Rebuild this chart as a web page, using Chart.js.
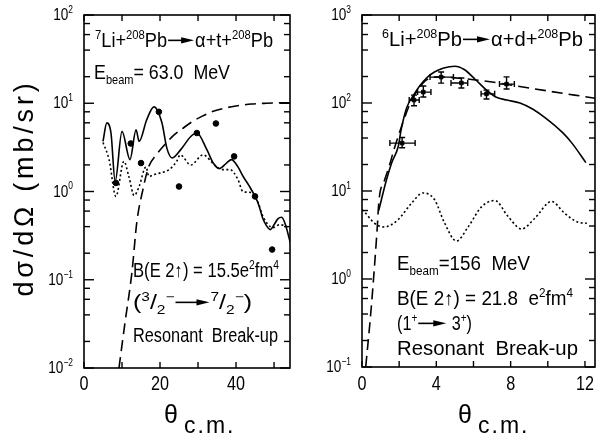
<!DOCTYPE html>
<html>
<head>
<meta charset="utf-8">
<script src="https://cdn.jsdelivr.net/npm/chart.js@4"></script>
<style>
  body { margin: 0; background: #fff; }
  canvas { position: absolute; top: 0; }
</style>
</head>
<body>
<canvas id="li7" width="300" height="437" style="left:0"></canvas>
<canvas id="li6" width="303" height="437" style="left:300px"></canvas>
<script>
// ---- 7Li + 208Pb (left panel) ----
const li7DataAngle = [8.4, 12.3, 15.0, 19.7, 25.0, 29.7, 34.7, 39.5, 45.0, 49.5];
const li7Data = [1.25, 3.5, 2.1, 8.0, 1.14, 4.6, 5.9, 2.5, 0.88, 0.22];

const li7FullAngle = [5.0, 6.0, 7.1, 8.2, 10.0, 12.1, 13.7, 14.5, 16.5, 18.4, 20.5, 21.8, 23.2, 25.5, 28.1, 29.7, 32.3, 34.0, 35.6, 37.5, 38.8, 40.5, 42.0, 43.5, 45.0, 46.0, 47.0, 48.0, 49.0, 50.0, 51.0, 52.0, 53.0, 54.3];
const li7Full = [3.7, 6.0, 4.6, 1.3, 4.8, 2.3, 5.0, 3.7, 6.5, 9.1, 6.0, 3.1, 2.4, 3.0, 4.2, 4.6, 3.0, 2.1, 1.82, 2.1, 2.3, 1.9, 1.45, 1.15, 0.88, 0.7, 0.5, 0.41, 0.37, 0.42, 0.49, 0.51, 0.42, 0.26];

const li7DotAngle = [5.0, 6.6, 8.4, 10.5, 11.8, 13.2, 14.5, 16.3, 17.1, 18.4, 20.2, 22.4, 24.4, 25.3, 28.1, 31.3, 34.5, 36.3, 38.4, 40.5, 41.8, 44.2, 45.8, 47.1, 49.7, 51.5, 53.4, 54.3];
const li7Dot = [3.6, 2.3, 0.88, 2.2, 1.48, 0.9, 1.14, 1.9, 1.48, 1.55, 1.63, 1.77, 2.2, 2.6, 2.0, 2.6, 1.97, 1.77, 1.77, 1.37, 1.0, 0.97, 0.75, 0.52, 0.39, 0.42, 0.40, 0.38];

const li7DashAngle = [9.2, 10.8, 12.6, 13.9, 15.5, 17.0, 19.0, 21.0, 23.5, 26.0, 28.5, 31.0, 34.0, 37.0, 40.0, 44.0, 48.0, 52.0, 54.5];
const li7Dash = [0.01, 0.033, 0.12, 0.45, 1.05, 1.9, 2.6, 3.3, 4.3, 5.2, 6.2, 7.1, 8.1, 8.8, 9.3, 9.8, 10.0, 10.1, 10.1];

const li7XTicks = [0, 10, 20, 30, 40, 50];
const li7XLabels = ["0", "", "20", "", "40", ""];
const li7YDecades = [0.01, 0.1, 1, 10, 100];
const li7YLabels = ["10^{−2}", "10^{−1}", "10^{0}", "10^{1}", "10^{2}"];

// ---- 6Li + 208Pb (right panel) ----
const li6DataAngle = [2.16, 2.8, 3.3, 4.26, 5.35, 6.7, 7.78];
const li6Data = [35, 108, 133, 197, 169, 127, 164];
const li6DataLo = [31, 93, 117, 168, 148, 111, 144];
const li6DataHi = [40.5, 123, 156, 225, 192, 140, 198];
const li6AngleLo = [1.5, 2.54, 2.99, 3.66, 4.79, 6.41, 7.4];
const li6AngleHi = [2.86, 3.08, 3.71, 4.92, 5.69, 7.14, 8.2];

const li6FullAngle = [0.9, 1.3, 1.6, 1.95, 2.1, 2.4, 2.8, 3.1, 3.5, 3.9, 4.4, 5.0, 5.5, 6.1, 6.7, 7.2, 7.8, 8.5, 9.2, 9.9, 10.8, 11.3, 12.05];
const li6Full = [6, 13, 21, 32, 49, 88, 125, 156, 195, 225, 250, 262, 240, 185, 140, 117, 108, 100, 85, 67, 46, 35, 21];

const li6DashAngle = [0.2, 0.5, 0.8, 0.92, 1.2, 1.46, 1.73, 2.2, 2.6, 3.0, 3.4, 3.8, 4.3, 5.0, 6.0, 7.0, 8.0, 9.0, 10.0, 11.0, 12.0, 12.55];
const li6Dash = [0.1, 0.48, 3.3, 8, 13, 19, 30, 60, 100, 140, 178, 196, 198, 193, 184, 173, 160, 148, 137, 127, 118, 113];

const li6DotAngle = [0, 0.13, 0.67, 1.2, 1.93, 2.65, 3.28, 3.9, 4.45, 5.08, 5.71, 6.43, 7.15, 7.87, 8.59, 9.3, 10.2, 10.9, 11.65, 12.1];
const li6Dot = [6.1, 5.8, 4.3, 3.9, 4.7, 7.2, 9.5, 8.0, 4.3, 2.7, 3.9, 6.6, 7.8, 5.1, 3.7, 4.9, 7.6, 5.6, 4.4, 4.3];

const li6XTicks = [0, 2, 4, 6, 8, 10, 12];
const li6XLabels = ["0", "", "4", "", "8", "", "12"];
const li6YDecades = [0.1, 1, 10, 100, 1000];
const li6YLabels = ["10^{−1}", "10^{0}", "10^{1}", "10^{2}", "10^{3}"];

const FONT = '"Liberation Sans", Arimo, sans-serif';
const TOKENS = /\^\{([^}]*)\}|_\{([^}]*)\}|>>(\d*)|[^^_>]+/g;

function pairs(xs, ys) {
  return xs.map((x, i) => ({ x: x, y: ys[i] }));
}

function logTicks(decades) {
  const out = [];
  decades.forEach((d, i) => {
    out.push({ value: d, major: true });
    if (i < decades.length - 1) [2, 4, 6, 8].forEach(m => out.push({ value: d * m, major: false }));
  });
  return out;
}

// rich text: ^{sup}, _{sub}, >>N arrow; sx squeezes the glyphs horizontally
function richRuns(markup, size) {
  const runs = [];
  let m;
  TOKENS.lastIndex = 0;
  while ((m = TOKENS.exec(markup))) {
    if (m[0].startsWith(">>")) runs.push({ arrow: m[3] ? +m[3] : 28 });
    else if (m[1] !== undefined) runs.push({ t: m[1], fs: size * 0.62, dy: -size * 0.42 });
    else if (m[2] !== undefined) runs.push({ t: m[2], fs: size * 0.62, dy: size * 0.25 });
    else runs.push({ t: m[0], fs: size, dy: 0 });
  }
  return runs;
}

function richMeasure(ctx, runs) {
  let text = 0, arrows = 0;
  runs.forEach(r => {
    if (r.arrow) { arrows += r.arrow; return; }
    ctx.font = r.fs + "px " + FONT;
    text += ctx.measureText(r.t).width;
  });
  return { text, arrows };
}

function drawRich(ctx, markup, x, y, size, sx) {
  const runs = richRuns(markup, size);
  runs.forEach(r => {
    if (r.arrow) {
      const y0 = y - size * 0.34;
      ctx.lineWidth = 1.6;
      ctx.beginPath();
      ctx.moveTo(x + 1, y0);
      ctx.lineTo(x + r.arrow - 8, y0);
      ctx.stroke();
      ctx.beginPath();
      ctx.moveTo(x + r.arrow - 1, y0);
      ctx.lineTo(x + r.arrow - 14, y0 - 3.2);
      ctx.lineTo(x + r.arrow - 14, y0 + 3.2);
      ctx.closePath();
      ctx.fill();
      x += r.arrow;
      return;
    }
    ctx.font = r.fs + "px " + FONT;
    ctx.save();
    ctx.translate(x, y + r.dy);
    ctx.scale(sx, 1);
    ctx.fillText(r.t, 0, 0);
    ctx.restore();
    x += ctx.measureText(r.t).width * sx;
  });
}

// draw so that the whole line is exactly `width` wide
function fitRich(ctx, markup, x, y, size, width) {
  const w = richMeasure(ctx, richRuns(markup, size));
  drawRich(ctx, markup, x, y, size, (width - w.arrows) / w.text);
}

function richWidth(ctx, markup, size, sx) {
  const w = richMeasure(ctx, richRuns(markup, size));
  return w.text * sx + w.arrows;
}

function frameFor(xTicks, xLabels, decades, yLabels) {
  return {
    id: "frame",
    afterDraw(chart) {
      const { ctx, chartArea: a, scales } = chart;
      const seg = (x1, y1, x2, y2) => { ctx.beginPath(); ctx.moveTo(x1, y1); ctx.lineTo(x2, y2); ctx.stroke(); };
      ctx.save();
      ctx.strokeStyle = "#000";
      ctx.fillStyle = "#000";
      ctx.textAlign = "left";
      ctx.textBaseline = "alphabetic";
      ctx.lineWidth = 1.6;
      ctx.strokeRect(a.left, a.top, a.right - a.left, a.bottom - a.top);
      ctx.lineWidth = 1.4;
      scales.x.ticks.forEach(t => {
        const px = scales.x.getPixelForValue(t.value);
        seg(px, a.bottom, px, a.bottom - 6);
        seg(px, a.top, px, a.top + 6);
        const lab = xLabels[xTicks.indexOf(t.value)];
        if (lab) {
          const w = richWidth(ctx, lab, 19.5, 0.83);
          drawRich(ctx, lab, px - w / 2, 390, 19.5, 0.83);
        }
      });
      scales.y.ticks.forEach(t => {
        const py = scales.y.getPixelForValue(t.value);
        const len = t.major ? 10 : 6;
        seg(a.left, py, a.left + len, py);
        seg(a.right, py, a.right - len, py);
        const i = decades.findIndex(d => Math.abs(d - t.value) / d < 1e-6);
        if (i >= 0) {
          const w = richWidth(ctx, yLabels[i], 17, 0.8);
          drawRich(ctx, yLabels[i], a.left - 11 - w, py + 5, 17, 0.8);
        }
      });
      ctx.restore();
    }
  };
}

const errorBars = {
  id: "errorBars",
  afterDatasetsDraw(chart) {
    const { ctx, scales: { x, y } } = chart;
    ctx.save();
    ctx.strokeStyle = "#000";
    ctx.lineWidth = 1.4;
    li6DataAngle.forEach((a, i) => {
      const px = x.getPixelForValue(a), py = y.getPixelForValue(li6Data[i]);
      const x1 = x.getPixelForValue(li6AngleLo[i]), x2 = x.getPixelForValue(li6AngleHi[i]);
      const y1 = y.getPixelForValue(li6DataLo[i]), y2 = y.getPixelForValue(li6DataHi[i]);
      ctx.beginPath();
      ctx.moveTo(x1, py); ctx.lineTo(x2, py);
      ctx.moveTo(x1, py - 3); ctx.lineTo(x1, py + 3);
      ctx.moveTo(x2, py - 3); ctx.lineTo(x2, py + 3);
      ctx.moveTo(px, y1); ctx.lineTo(px, y2);
      ctx.moveTo(px - 3, y1); ctx.lineTo(px + 3, y1);
      ctx.moveTo(px - 3, y2); ctx.lineTo(px + 3, y2);
      ctx.stroke();
    });
    ctx.restore();
  }
};

function axisTitle(ctx, thetaX) {
  ctx.font = "25px " + FONT;
  ctx.fillText("θ", thetaX, 423);
  ctx.font = "23px " + FONT;
  ctx.letterSpacing = "2px";
  ctx.fillText("c.m.", thetaX + 20, 433);
  ctx.letterSpacing = "0px";
}

const li7Text = {
  id: "li7Text",
  afterDraw(chart) {
    const ctx = chart.ctx;
    ctx.save();
    ctx.fillStyle = "#000";
    ctx.strokeStyle = "#000";
    ctx.textAlign = "left";
    ctx.textBaseline = "alphabetic";
    fitRich(ctx, "^{7}Li+^{208}Pb>>28α+t+^{208}Pb", 95, 47, 19.5, 178);
    fitRich(ctx, "E_{beam}= 63.0  MeV", 94, 79, 19.5, 136);
    fitRich(ctx, "B(E 2↑) = 15.5e^{2}fm^{4}", 133, 277, 19.5, 146);
    fitRich(ctx, "(^{3}/_{2}^{−}>>36^{7}/_{2}^{−})", 133, 309, 19.5, 119);
    fitRich(ctx, "Resonant  Break-up", 133, 342, 19.5, 145);
    axisTitle(ctx, 164);
    // y title, rotated
    ctx.translate(33, 188);
    ctx.rotate(-Math.PI / 2);
    ctx.textAlign = "center";
    ctx.font = "27px " + FONT;
    const title = "dσ/dΩ (mb/sr)";
    const w = ctx.measureText(title).width;
    ctx.letterSpacing = ((217 - w) / title.length).toFixed(2) + "px";
    ctx.fillText(title, 0, 0);
    ctx.restore();
  }
};

const li6Text = {
  id: "li6Text",
  afterDraw(chart) {
    const ctx = chart.ctx;
    ctx.save();
    ctx.fillStyle = "#000";
    ctx.strokeStyle = "#000";
    ctx.textAlign = "left";
    ctx.textBaseline = "alphabetic";
    fitRich(ctx, "^{6}Li+^{208}Pb>>29α+d+^{208}Pb", 82, 46, 19.5, 201);
    fitRich(ctx, "E_{beam}=156  MeV", 97, 270, 19.5, 133);
    fitRich(ctx, "B(E 2↑) = 21.8  e^{2}fm^{4}", 97, 305, 19.5, 176);
    fitRich(ctx, "(1^{+}>>30 3^{+})", 97, 330, 19.5, 75);
    fitRich(ctx, "Resonant  Break-up", 97, 355, 19.5, 181);
    axisTitle(ctx, 158);
    ctx.restore();
  }
};

function curve(data, dash) {
  return {
    data: data,
    showLine: true,
    borderColor: "#000",
    borderWidth: 1.6,
    borderDash: dash || [],
    pointRadius: 0,
    fill: false,
    cubicInterpolationMode: "monotone"
  };
}

function options(xMax, xTicks, decades, yWidth, xHeight, padRight) {
  return {
    responsive: false,
    animation: false,
    layout: { padding: { top: 15, right: padRight, left: 0, bottom: 0 } },
    plugins: { legend: { display: false }, tooltip: { enabled: false } },
    scales: {
      x: {
        type: "linear",
        min: 0,
        max: xMax,
        grid: { display: false, drawTicks: false },
        border: { display: false },
        ticks: { display: false, autoSkip: false },
        afterBuildTicks: s => { s.ticks = xTicks.map(v => ({ value: v })); },
        afterFit: s => { s.height = xHeight; }
      },
      y: {
        type: "logarithmic",
        min: decades[0],
        max: decades[decades.length - 1],
        grid: { display: false, drawTicks: false },
        border: { display: false },
        ticks: { display: false, autoSkip: false },
        afterBuildTicks: s => { s.ticks = logTicks(decades); },
        afterFit: s => { s.width = yWidth; }
      }
    }
  };
}

new Chart(document.getElementById("li7"), {
  type: "scatter",
  data: {
    datasets: [
      curve(pairs(li7FullAngle, li7Full)),
      curve(pairs(li7DotAngle, li7Dot), [2, 2.5]),
      curve(pairs(li7DashAngle, li7Dash), [11, 6]),
      {
        data: pairs(li7DataAngle, li7Data),
        pointRadius: 2.8,
        backgroundColor: "#000",
        borderColor: "#000"
      }
    ]
  },
  options: options(54.2, li7XTicks, li7YDecades, 84, 69, 10),
  plugins: [frameFor(li7XTicks, li7XLabels, li7YDecades, li7YLabels), li7Text]
});

new Chart(document.getElementById("li6"), {
  type: "scatter",
  data: {
    datasets: [
      curve(pairs(li6FullAngle, li6Full)),
      curve(pairs(li6DashAngle, li6Dash), [11, 6]),
      curve(pairs(li6DotAngle, li6Dot), [2, 2.5]),
      {
        data: pairs(li6DataAngle, li6Data),
        pointRadius: 2.5,
        pointStyle: "rect",
        backgroundColor: "#000",
        borderColor: "#000"
      }
    ]
  },
  options: options(12.54, li6XTicks, li6YDecades, 62, 70, 8),
  plugins: [frameFor(li6XTicks, li6XLabels, li6YDecades, li6YLabels), errorBars, li6Text]
});
</script>
</body>
</html>
